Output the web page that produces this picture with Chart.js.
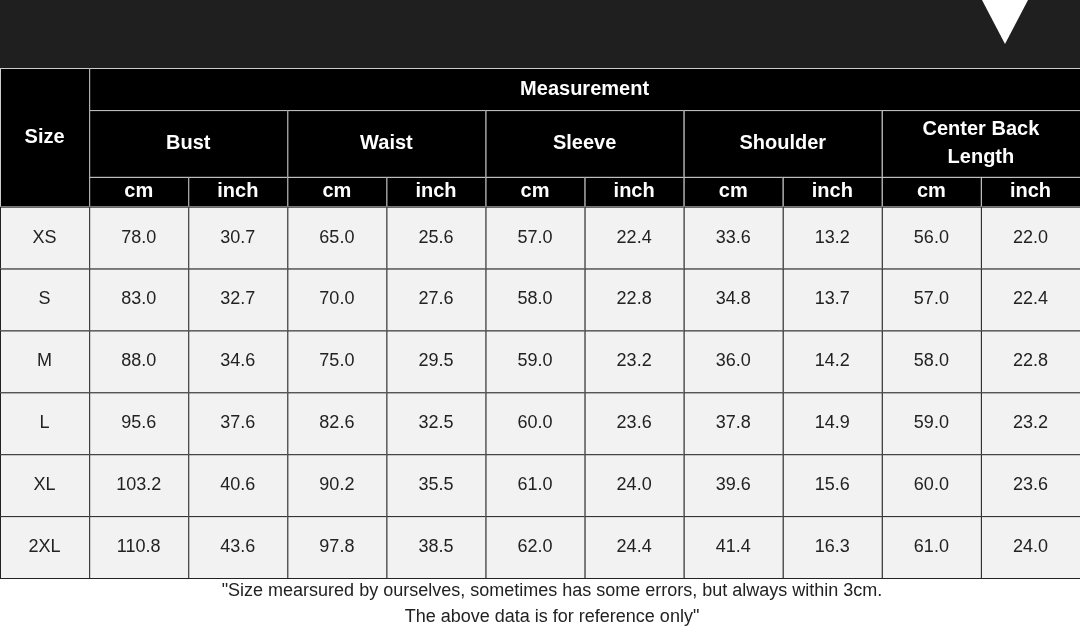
<!DOCTYPE html>
<html><head><meta charset="utf-8">
<script src="https://cdn.jsdelivr.net/npm/chart.js@4"></script>
<style>html,body{margin:0;background:#fff}#c{display:block}</style>
</head><body>
<div style="width:1080px;height:630px"><canvas id="c"></canvas></div>
<script>
var sizes = ['XS', 'S', 'M', 'L', 'XL', '2XL'];
var groups = ['Bust', 'Waist', 'Sleeve', 'Shoulder', 'Center Back\nLength'];
var units = ['cm', 'inch'];
var bustCm = ['78.0', '83.0', '88.0', '95.6', '103.2', '110.8'];
var bustIn = ['30.7', '32.7', '34.6', '37.6', '40.6', '43.6'];
var waistCm = ['65.0', '70.0', '75.0', '82.6', '90.2', '97.8'];
var waistIn = ['25.6', '27.6', '29.5', '32.5', '35.5', '38.5'];
var sleeveCm = ['57.0', '58.0', '59.0', '60.0', '61.0', '62.0'];
var sleeveIn = ['22.4', '22.8', '23.2', '23.6', '24.0', '24.4'];
var shoulderCm = ['33.6', '34.8', '36.0', '37.8', '39.6', '41.4'];
var shoulderIn = ['13.2', '13.7', '14.2', '14.9', '15.6', '16.3'];
var backCm = ['56.0', '57.0', '58.0', '59.0', '60.0', '61.0'];
var backIn = ['22.0', '22.4', '22.8', '23.2', '23.6', '24.0'];
var columns = [bustCm, bustIn, waistCm, waistIn, sleeveCm, sleeveIn, shoulderCm, shoulderIn, backCm, backIn];
var footer = ['"Size mearsured by ourselves, sometimes has some errors, but always within 3cm.', 'The above data is for reference only"'];

// row edges in y units (top of table = 0)
var hMeas = 0.68, hGroup = 1.76, hUnit = 2.24;

var tablePlugin = {
    id: 'table',
    beforeDatasetsDraw: function (chart) {
        var c = chart.ctx, x = chart.scales.x, y = chart.scales.y;
        var W = chart.width;
        // top band
        c.fillStyle = '#1f1f1f';
        c.fillRect(0, 0, W, y.getPixelForValue(0));
        c.fillStyle = '#fff';
        c.beginPath(); c.moveTo(982, 0); c.lineTo(1028, 0); c.lineTo(1005, 44); c.closePath(); c.fill();

        function cell(x0, x1, y0, y1, bg, line, text, color, font) {
            var px0 = x.getPixelForValue(x0), px1 = x.getPixelForValue(x1);
            var py0 = y.getPixelForValue(y0), py1 = y.getPixelForValue(y1);
            c.fillStyle = bg; c.fillRect(px0, py0, px1 - px0, py1 - py0);
            c.strokeStyle = line; c.lineWidth = 1;
            c.strokeRect(px0 + 0.5, py0 + 0.5, px1 - px0, py1 - py0);
            c.fillStyle = color; c.font = font; c.textAlign = 'center'; c.textBaseline = 'middle';
            var lines = text.split('\n');
            var cy = (py0 + py1) / 2 - (lines.length - 1) * 14;
            lines.forEach(function (t, i) { c.fillText(t, (px0 + px1) / 2, cy + i * 28); });
        }
        var hb = 'bold 20px "Liberation Sans", Arial, sans-serif';
        var dn = '18px "Liberation Sans", Arial, sans-serif';
        cell(-0.9, 0, 0, hUnit, '#000', '#ccc', 'Size', '#fff', hb);
        cell(0, 10, 0, hMeas, '#000', '#ccc', 'Measurement', '#fff', hb);
        groups.forEach(function (g, i) {
            cell(i * 2, i * 2 + 2, hMeas, hGroup, '#000', '#ccc', g, '#fff', hb);
            units.forEach(function (u, j) {
                cell(i * 2 + j, i * 2 + j + 1, hGroup, hUnit, '#000', '#ccc', u, '#fff', hb);
            });
        });
        sizes.forEach(function (s, r) {
            var y0 = hUnit + r, y1 = y0 + 1;
            cell(-0.9, 0, y0, y1, '#f2f2f2', '#222', s, '#222', dn);
            columns.forEach(function (col, k) {
                cell(k, k + 1, y0, y1, '#f2f2f2', '#222', col[r], '#222', dn);
            });
        });
        c.fillStyle = '#222'; c.font = dn; c.textAlign = 'center';
        c.fillText(footer[0], 552, 591);
        c.fillText(footer[1], 552, 617);
    }
};

new Chart(document.getElementById('c'), {
    type: 'scatter',
    data: { datasets: [{ data: [] }] },
    options: {
        responsive: true, maintainAspectRatio: false, animation: false,
        layout: { padding: { top: 68, bottom: 52, left: 0, right: 0 } },
        plugins: { legend: { display: false }, tooltip: { enabled: false } },
        scales: {
            x: { type: 'linear', min: -0.9, max: 10, display: false },
            y: { type: 'linear', min: 0, max: hUnit + sizes.length, reverse: true, display: false }
        }
    },
    plugins: [tablePlugin]
});
</script>
</body></html>
